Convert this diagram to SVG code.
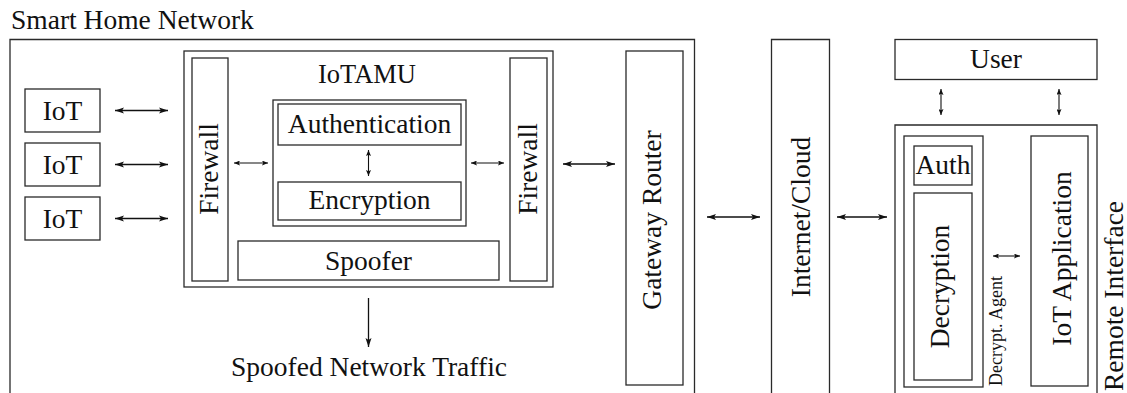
<svg xmlns="http://www.w3.org/2000/svg" width="1127" height="393" viewBox="0 0 1127 393">
  <style>
    .box { fill: none; stroke: #2a2a2a; stroke-width: 1.3; }
    .lbl { font-family: "Liberation Serif", "Times New Roman", serif; font-size: 27.5px; fill: #111; }
    .mid { text-anchor: middle; }
    .small { font-size: 18px; }
    .wire { fill: none; stroke: #111; stroke-width: 1.3; }
    .thin { fill: none; stroke: #111; stroke-width: 1.1; }
  </style>
  <defs>
    <marker id="head" markerUnits="userSpaceOnUse" markerWidth="9" markerHeight="7" refX="9" refY="3.5" orient="auto-start-reverse">
      <path d="M0,0.5 L9,3.5 L0,6.5 L2,3.5 z" fill="#111"/>
    </marker>
    <marker id="headSm" markerUnits="userSpaceOnUse" markerWidth="6" markerHeight="5" refX="6" refY="2.5" orient="auto-start-reverse">
      <path d="M0,0 L6,2.5 L0,5 L1.2,2.5 z" fill="#111"/>
    </marker>
  </defs>

  <!-- home network enclosure -->
  <g id="smart-home">
    <text class="lbl" x="11" y="29">Smart Home Network</text>
    <path class="box" d="M10,395 V39.5 H694.5 V395"/>
  </g>

  <!-- devices -->
  <g id="iot-1">
    <rect class="box" x="25" y="89" width="75" height="43"/>
    <text class="lbl mid" x="62.5" y="119.5">IoT</text>
  </g>
  <g id="iot-2">
    <rect class="box" x="25" y="143" width="75" height="43"/>
    <text class="lbl mid" x="62.5" y="173.5">IoT</text>
  </g>
  <g id="iot-3">
    <rect class="box" x="25" y="197" width="75" height="43"/>
    <text class="lbl mid" x="62.5" y="227.5">IoT</text>
  </g>

  <!-- IoTAMU module -->
  <g id="iotamu">
    <rect class="box" x="184" y="51" width="369" height="236"/>
    <text class="lbl mid" x="367" y="83" style="font-size:26.5px">IoTAMU</text>
  </g>
  <g id="firewall-left">
    <rect class="box" x="192" y="58" width="36" height="223"/>
    <text class="lbl mid" transform="translate(218,169) rotate(-90)">Firewall</text>
  </g>
  <g id="crypto">
    <rect class="box" x="273" y="100" width="193" height="126"/>
  </g>
  <g id="authentication">
    <rect class="box" x="278" y="104" width="183" height="41"/>
    <text class="lbl mid" x="369.5" y="133">Authentication</text>
  </g>
  <g id="encryption">
    <rect class="box" x="278" y="182" width="183" height="38"/>
    <text class="lbl mid" x="369.5" y="209">Encryption</text>
  </g>
  <g id="spoofer">
    <rect class="box" x="238" y="241" width="261" height="39"/>
    <text class="lbl mid" x="368.5" y="269.5">Spoofer</text>
  </g>
  <g id="firewall-right">
    <rect class="box" x="510" y="58" width="37" height="223"/>
    <text class="lbl mid" transform="translate(536.5,169) rotate(-90)">Firewall</text>
  </g>

  <g id="gateway">
    <rect class="box" x="626" y="51" width="57" height="334"/>
    <text class="lbl mid" transform="translate(661,220) rotate(-90)">Gateway Router</text>
  </g>

  <g id="cloud">
    <path class="box" d="M771.5,395 V39.5 H829.5 V395"/>
    <text class="lbl mid" transform="translate(810,217) rotate(-90)">Internet/Cloud</text>
  </g>

  <g id="spoofed-traffic">
    <text class="lbl mid" x="369" y="376">Spoofed Network Traffic</text>
  </g>

  <!-- remote side -->
  <g id="user">
    <rect class="box" x="895" y="39.5" width="202" height="40"/>
    <text class="lbl mid" x="996" y="67.5">User</text>
  </g>
  <g id="remote-interface">
    <path class="box" d="M895,395 V125 H1097 V395"/>
    <text class="lbl mid" transform="translate(1123,296) rotate(-90)">Remote Interface</text>
  </g>
  <g id="decrypt-agent">
    <rect class="box" x="904" y="136" width="79" height="251"/>
    <text class="lbl small" transform="translate(1002,386) rotate(-90)">Decrypt. Agent</text>
  </g>
  <g id="auth">
    <rect class="box" x="914" y="146" width="58" height="39"/>
    <text class="lbl mid" x="943" y="174">Auth</text>
  </g>
  <g id="decryption">
    <rect class="box" x="914" y="193" width="58" height="187"/>
    <text class="lbl mid" transform="translate(949,286.5) rotate(-90)">Decryption</text>
  </g>
  <g id="iot-application">
    <rect class="box" x="1031" y="136" width="57" height="250"/>
    <text class="lbl mid" transform="translate(1071,258.5) rotate(-90)">IoT Application</text>
  </g>

  <!-- connectors -->
  <g id="connectors">
    <line class="wire" x1="115" y1="110.5" x2="168" y2="110.5" marker-start="url(#head)" marker-end="url(#head)"/>
    <line class="wire" x1="115" y1="164.5" x2="168" y2="164.5" marker-start="url(#head)" marker-end="url(#head)"/>
    <line class="wire" x1="115" y1="218.5" x2="168" y2="218.5" marker-start="url(#head)" marker-end="url(#head)"/>
    <line class="thin" x1="234" y1="163" x2="268" y2="163" marker-start="url(#headSm)" marker-end="url(#headSm)"/>
    <line class="thin" x1="471" y1="163" x2="504" y2="163" marker-start="url(#headSm)" marker-end="url(#headSm)"/>
    <line class="thin" x1="368.5" y1="150" x2="368.5" y2="176" marker-start="url(#headSm)" marker-end="url(#headSm)"/>
    <line class="wire" x1="563" y1="164" x2="615" y2="164" marker-start="url(#head)" marker-end="url(#head)"/>
    <line class="wire" x1="368.5" y1="298" x2="368.5" y2="347" marker-end="url(#head)"/>
    <line class="wire" x1="707" y1="217" x2="760" y2="217" marker-start="url(#head)" marker-end="url(#head)"/>
    <line class="wire" x1="837" y1="217" x2="887" y2="217" marker-start="url(#head)" marker-end="url(#head)"/>
    <line class="thin" x1="941" y1="89" x2="941" y2="115" marker-start="url(#headSm)" marker-end="url(#headSm)"/>
    <line class="thin" x1="1059" y1="89" x2="1059" y2="115" marker-start="url(#headSm)" marker-end="url(#headSm)"/>
    <line class="thin" x1="993" y1="256" x2="1020" y2="256" marker-start="url(#headSm)" marker-end="url(#headSm)"/>
  </g>
</svg>
